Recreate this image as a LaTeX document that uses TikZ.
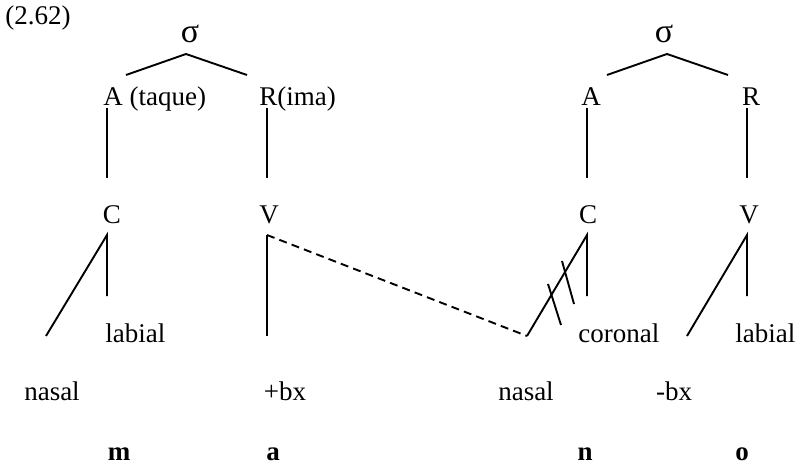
\documentclass[tikz,border=0pt]{standalone}
\usepackage{fontspec}
\setmainfont{Liberation Serif}
\begin{document}
\begin{tikzpicture}[x=0.5pt,y=-0.5pt,
  lbl/.style={inner sep=0pt,anchor=base,font=\fontsize{13.5}{16}\selectfont},
  sig/.style={inner sep=0pt,anchor=base,font=\fontsize{17}{19}\selectfont},
  seg/.style={line width=0.95pt},
  dsh/.style={line width=0.95pt,dash pattern=on 4pt off 2.6pt}]
\useasboundingbox (0,0) rectangle (797,465);
% example number
\node[lbl,anchor=base west] (num) at (5,25) {(2.62)};
% left syllable
\node[sig] (s1) at (190,43) {σ};
\coordinate (s1t) at (186,54);
\coordinate (s1l) at (126,75);
\coordinate (s1r) at (247,75);
\draw[seg] (s1l) -- (s1t) -- (s1r);
\node[lbl,anchor=base west] (A1) at (103,105) {A (taque)};
\node[lbl,anchor=base west] (R1) at (259,105) {R(ima)};
\coordinate (A1b) at (107,108); \coordinate (A1e) at (107,178);
\coordinate (R1b) at (267,108); \coordinate (R1e) at (267,178);
\draw[seg] (A1b) -- (A1e);
\draw[seg] (R1b) -- (R1e);
\node[lbl] (C1) at (112,223) {C};
\node[lbl] (V1) at (269,223) {V};
\coordinate (C1t) at (107,235); \coordinate (C1v) at (107,296); \coordinate (C1d) at (46,336);
\draw[seg] (C1d) -- (C1t) -- (C1v);
\coordinate (V1t) at (267,235); \coordinate (V1v) at (267,336);
\draw[seg] (V1t) -- (V1v);
\node[lbl,anchor=base west] (lab1) at (105,342) {labial};
% right syllable
\node[sig] (s2) at (664,43) {σ};
\coordinate (s2t) at (667,54);
\coordinate (s2l) at (607,75);
\coordinate (s2r) at (728,75);
\draw[seg] (s2l) -- (s2t) -- (s2r);
\node[lbl] (A2) at (591,105) {A};
\node[lbl] (R2) at (751,105) {R};
\coordinate (A2b) at (587,108); \coordinate (A2e) at (587,178);
\coordinate (R2b) at (747,108); \coordinate (R2e) at (747,178);
\draw[seg] (A2b) -- (A2e);
\draw[seg] (R2b) -- (R2e);
\node[lbl] (C2) at (588,223) {C};
\node[lbl] (V2) at (749,223) {V};
\coordinate (C2t) at (587,235); \coordinate (C2v) at (587,296); \coordinate (C2d) at (527,336);
\draw[seg] (C2d) -- (C2t) -- (C2v);
\coordinate (V2t) at (747,235); \coordinate (V2v) at (747,296); \coordinate (V2d) at (687,336);
\draw[seg] (V2d) -- (V2t) -- (V2v);
% cut marks
\coordinate (k1a) at (548,284); \coordinate (k1b) at (561,325);
\coordinate (k2a) at (562,261); \coordinate (k2b) at (574,304);
\draw[seg] (k1a) -- (k1b);
\draw[seg] (k2a) -- (k2b);
% spreading
\draw[dsh] (V1t) -- (C2d);
\node[lbl,anchor=base west] (cor) at (578,342) {coronal};
\node[lbl,anchor=base west] (lab2) at (735,342) {labial};
% features
\node[lbl] (n1) at (52,400) {nasal};
\node[lbl] (bx1) at (285,400) {+bx};
\node[lbl] (n2) at (526,400) {nasal};
\node[lbl] (bx2) at (674,400) {-bx};
% segments
\node[lbl,font=\fontsize{13.5}{16}\selectfont\bfseries] (m) at (119,460) {m};
\node[lbl,font=\fontsize{13.5}{16}\selectfont\bfseries] (a) at (273,460) {a};
\node[lbl,font=\fontsize{13.5}{16}\selectfont\bfseries] (n) at (585,460) {n};
\node[lbl,font=\fontsize{13.5}{16}\selectfont\bfseries] (o) at (742,460) {o};
\end{tikzpicture}
\end{document}
